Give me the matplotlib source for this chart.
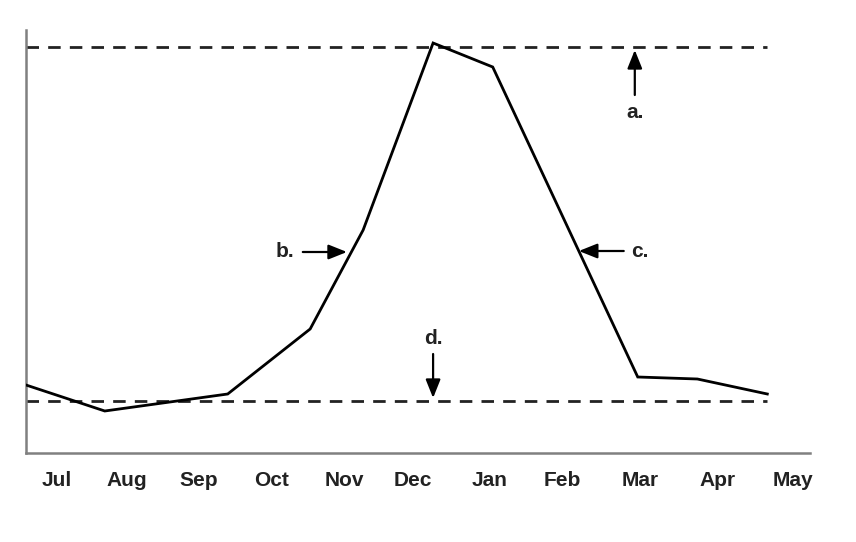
import numpy as np
import matplotlib
matplotlib.use("Agg")
import matplotlib.pyplot as plt

plt.rcParams['font.family'] = ['Liberation Sans', 'DejaVu Sans']

# x in months from Jul (0) to May (10), y in arbitrary units
months = ["Jul", "Aug", "Sep", "Oct", "Nov", "Dec", "Jan", "Feb", "Mar", "Apr", "May"]
curve_x = [-0.42, 0.65, 2.32, 3.44, 4.16, 5.11, 5.92, 7.89, 8.70, 9.65]
curve_y = [6.8, 4.2, 5.9, 12.4, 22.3, 41.0, 38.6, 7.6, 7.4, 5.9]
upper_level = 40.6
lower_level = 5.2

# label spots as drawn in the original (slightly uneven)
tick_pos = [0, 0.95, 1.93, 2.91, 3.91, 4.84, 5.88, 6.87, 7.92, 8.97, 10]

fig = plt.figure(figsize=(8.56, 5.42), dpi=100)
ax = fig.add_axes([26/856, 89/542, 784/856, 423/542])

ax.plot(curve_x, curve_y, c="k", lw=2.0, solid_joinstyle="miter", zorder=3)
for lvl in (upper_level, lower_level):
    ax.hlines(lvl, curve_x[0], curve_x[-1], colors="#222222", lw=2.0,
              linestyles=(0, (4.5, 3.3)), zorder=2)

ax.set_xlim(-0.42, 10.23)
ax.set_ylim(0, 42.3)
ax.set_xticks(tick_pos)
ax.set_xticklabels(months, fontsize=15, fontweight="bold", color="#222222")
ax.tick_params(axis="x", length=0, pad=13)
ax.set_yticks([])
for s in ["top", "right"]:
    ax.spines[s].set_visible(False)
for s in ["left", "bottom"]:
    ax.spines[s].set_color("#808080")
    ax.spines[s].set_linewidth(1.8)

arrow = dict(arrowstyle="-|>,head_length=0.7,head_width=0.28", lw=1.6, color="k",
             mutation_scale=16, shrinkA=0, shrinkB=0)
txt = dict(fontsize=15, fontweight="bold", color="#222222", ha="center", va="center")

# a.
ax.annotate("", xy=(7.85, 40.3), xytext=(7.85, 35.8), arrowprops=arrow)
ax.text(7.85, 34.0, "a.", **txt)
# b.
ax.annotate("", xy=(3.94, 20.1), xytext=(3.34, 20.1), arrowprops=arrow)
ax.text(3.10, 20.1, "b.", **txt)
# c.
ax.annotate("", xy=(7.09, 20.2), xytext=(7.70, 20.2), arrowprops=arrow)
ax.text(7.92, 20.1, "c.", **txt)
# d.
ax.annotate("", xy=(5.11, 5.5), xytext=(5.11, 9.9), arrowprops=arrow)
ax.text(5.11, 11.5, "d.", **txt)

fig.savefig("out.png", dpi=100)
